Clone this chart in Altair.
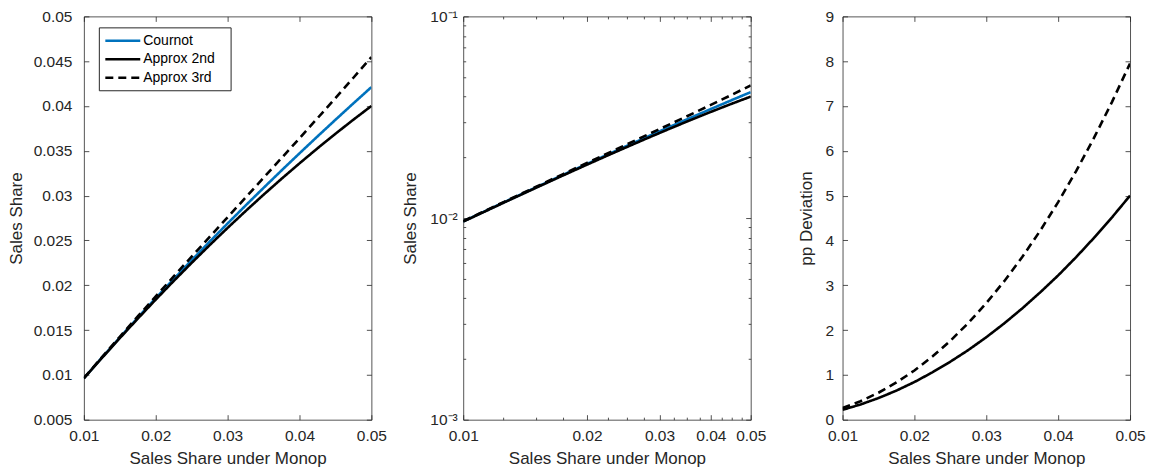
import altair as alt
import pandas as pd

# ---- data ----
monop = [0.01, 0.0125, 0.015, 0.0175, 0.02, 0.0225, 0.025, 0.0275, 0.03,
         0.0325, 0.035, 0.0375, 0.04, 0.0425, 0.045, 0.0475, 0.05]
cournot = [0.009621, 0.011915, 0.014168, 0.016381, 0.018556, 0.020693, 0.022795,
           0.024861, 0.026895, 0.028896, 0.030866, 0.032807, 0.034718, 0.036603,
           0.038462, 0.040295, 0.042105]
approx2 = [0.0096, 0.011875, 0.0141, 0.016275, 0.0184, 0.020475, 0.0225, 0.024475,
           0.0264, 0.028275, 0.0301, 0.031875, 0.0336, 0.035275, 0.0369, 0.038475, 0.04]
approx3 = [0.009646, 0.011964, 0.014253, 0.016517, 0.01876, 0.020984, 0.023196,
           0.025398, 0.027595, 0.029789, 0.031986, 0.03419, 0.036404, 0.038633,
           0.040882, 0.043153, 0.045453]
dev2 = [0.220, 0.339, 0.482, 0.649, 0.840, 1.056, 1.294, 1.554, 1.840, 2.149,
        2.483, 2.841, 3.219, 3.627, 4.060, 4.517, 5.000]
dev3 = [0.260, 0.412, 0.601, 0.830, 1.098, 1.408, 1.761, 2.158, 2.601, 3.091,
        3.629, 4.217, 4.856, 5.547, 6.293, 7.093, 7.950]

series = ["Cournot", "Approx 2nd", "Approx 3rd"]
colors = ["#0072BD", "#000000", "#000000"]
dashes = [[1, 0], [1, 0], [8, 5]]

x_major = [0.01, 0.02, 0.03, 0.04, 0.05]
x_minor_log = [0.0125, 0.015, 0.0175, 0.0225, 0.025, 0.0275, 0.0325, 0.035,
               0.0375, 0.0425, 0.045, 0.0475]
y1_major = [0.005, 0.01, 0.015, 0.02, 0.025, 0.03, 0.035, 0.04, 0.045, 0.05]
y2_major = [0.001, 0.01, 0.1]
y2_minor = [0.002, 0.003, 0.004, 0.005, 0.006, 0.007, 0.008, 0.009,
            0.02, 0.03, 0.04, 0.05, 0.06, 0.07, 0.08, 0.09]
y3_major = [0, 1, 2, 3, 4, 5, 6, 7, 8, 9]

# ---- tables ----
share_rows = []
for s, vals in zip(series, [cournot, approx2, approx3]):
    for m, v in zip(monop, vals):
        share_rows.append({"m": m, "series": s, "v": v})
share_df = pd.DataFrame(share_rows)

dev_rows = []
for s, vals in zip(series[1:], [dev2, dev3]):
    for m, v in zip(monop, vals):
        dev_rows.append({"m": m, "series": s, "v": v})
dev_df = pd.DataFrame(dev_rows)

FONT = "Liberation Sans"
TXT = "#262626"
W, H = 288, 404


def ax(orient, values, size, labels, title=None, **kw):
    return alt.Axis(orient=orient, values=values, tickSize=size, offset=-size,
                    domain=False, grid=False, labels=labels, title=title,
                    labelFlush=False, tickColor=TXT, tickWidth=0.8, **kw)


legend = alt.Legend(title=None, orient="none", legendX=15, legendY=11,
                    symbolType="M-2.5,0H2.5", symbolSize=196, symbolStrokeWidth=2.5,
                    symbolOffset=10.5,
                    labelFontSize=14, labelFont=FONT, labelColor="#000000",
                    strokeColor=TXT, fillColor="white", padding=5,
                    rowPadding=2.5, labelOffset=12,
                    labelExpr="datum.label + '\u2800'")


def panel(df, xs, ys, ymaj, ytitle, ylab_pad, ytitle_pad, show_legend,
          ylabel_expr=None, xminor=None, yminor=None):
    base = alt.Chart(df)
    yk = dict(format="~g", labelPadding=ylab_pad, titlePadding=ytitle_pad)
    if ylabel_expr:
        yk["labelExpr"] = ylabel_expr
    if show_legend:
        col = alt.Color("series:N", scale=alt.Scale(domain=series, range=colors),
                        legend=legend)
        dash = alt.StrokeDash("series:N", scale=alt.Scale(domain=series, range=dashes),
                              legend=legend)
    else:
        col = alt.Color("series:N", scale=alt.Scale(domain=series, range=colors),
                        legend=None)
        dash = alt.StrokeDash("series:N", scale=alt.Scale(domain=series, range=dashes),
                              legend=None)
    lines = base.mark_line(strokeWidth=2.6, clip=True).encode(
        x=alt.X("m:Q", scale=xs,
                axis=ax("bottom", x_major, 5, True, "Sales Share under Monop",
                        format="~g", labelPadding=9, titlePadding=6)),
        y=alt.Y("v:Q", scale=ys, axis=ax("left", ymaj, 5, True, ytitle, **yk)),
        color=col,
        strokeDash=dash,
        order=alt.Order("series:N"),
    )
    layers = [lines]
    layers.append(base.mark_point(opacity=0, size=1).encode(
        x=alt.X("m:Q", scale=xs, axis=ax("top", x_major, 5, False)),
        y=alt.Y("v:Q", scale=ys, axis=ax("right", ymaj, 5, False)),
    ))
    if xminor is not None:
        layers.append(base.mark_point(opacity=0, size=1).encode(
            x=alt.X("m:Q", scale=xs, axis=ax("bottom", xminor, 2.5, False)),
            y=alt.Y("v:Q", scale=ys, axis=ax("left", yminor, 2.5, False)),
        ))
        layers.append(base.mark_point(opacity=0, size=1).encode(
            x=alt.X("m:Q", scale=xs, axis=ax("top", xminor, 2.5, False)),
            y=alt.Y("v:Q", scale=ys, axis=ax("right", yminor, 2.5, False)),
        ))
    return alt.layer(*layers).resolve_axis(x="independent", y="independent").properties(
        width=W, height=H)


lin_x = alt.Scale(domain=[0.01, 0.05], nice=False, zero=False)
log_x = alt.Scale(type="log", domain=[0.01, 0.05], nice=False)

p1 = panel(share_df, lin_x, alt.Scale(domain=[0.005, 0.05], nice=False, zero=False),
           y1_major, "Sales Share", 12, 8, True)
p2 = panel(share_df, log_x, alt.Scale(type="log", domain=[0.001, 0.1], nice=False),
           y2_major, "Sales Share", 6, 10, False,
           ylabel_expr="datum.value < 0.005 ? '10\u207b\u00b3' : (datum.value < 0.05 ? '10\u207b\u00b2' : '10\u207b\u00b9')",
           xminor=x_minor_log, yminor=y2_minor)
p3 = panel(dev_df, lin_x, alt.Scale(domain=[0, 9], nice=False, zero=False),
           y3_major, "pp Deviation", 9, 9, False)

chart = alt.hconcat(p1, p2, p3, spacing=92, bounds="flush").resolve_scale(
    color="independent", strokeDash="independent"
).configure_axis(
    labelFont=FONT, labelFontSize=15.5, labelColor=TXT,
    titleFont=FONT, titleFontSize=17, titleFontWeight="normal", titleColor=TXT,
).configure_view(
    stroke="#555555", strokeWidth=1,
).properties(
    padding={"left": -2, "top": 0, "right": 0, "bottom": 0},
    background="white",
)

chart.save("out.html", embed_options={"renderer": "svg", "actions": False})
